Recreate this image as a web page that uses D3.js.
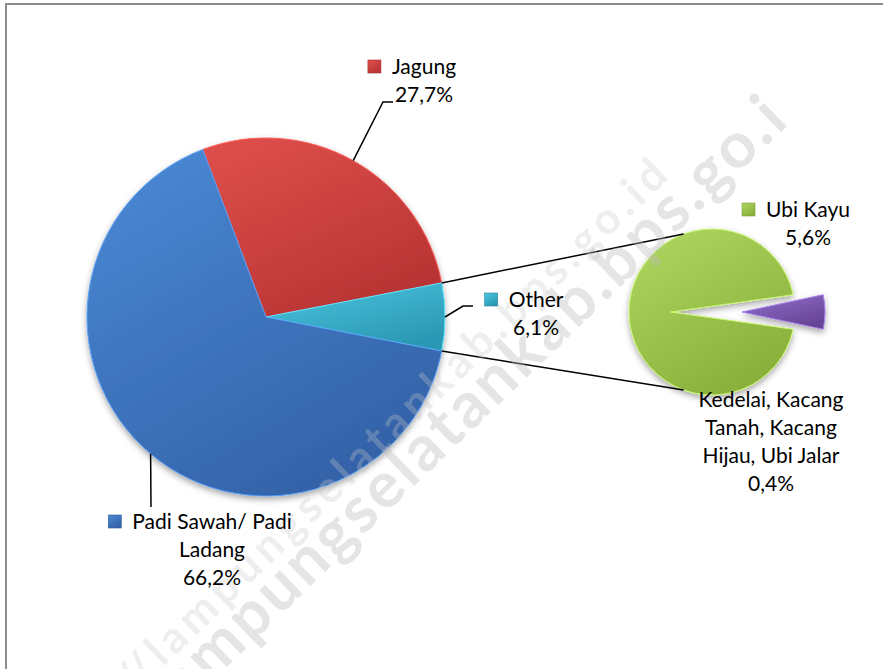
<!DOCTYPE html>
<html>
<head>
<meta charset="utf-8">
<script src="https://cdn.jsdelivr.net/npm/d3@7"></script>
<style>
  html, body { margin: 0; padding: 0; background: #fff; }
  svg { display: block; }
  text { font-family: Lato, "Open Sans", sans-serif; }
</style>
</head>
<body>
<div id="chart"></div>
<script>
// main pie, clockwise order
const mainCategories = ['Jagung', 'Other', 'Padi Sawah/ Padi Ladang'];
const mainValues = [27.7, 6.1, 66.2];
const mainLabels = ['27,7%', '6,1%', '66,2%'];

// second pie: what "Other" is made of, clockwise order
const subCategories = ['Kedelai, Kacang Tanah, Kacang Hijau, Ubi Jalar', 'Ubi Kayu'];
const subValues = [0.4, 5.6];
const subLabels = ['0,4%', '5,6%'];

const width = 883, height = 669;
const main = { cx: 266, cy: 317, r: 179 };
const sub = { cx: 712, cy: 312, r: 83 };

const colors = {
  'Jagung': ['#e0504c', '#b93434'],
  'Other': ['#4cc6e0', '#2b98b4'],
  'Padi Sawah/ Padi Ladang': ['#4b8ad6', '#3463a9'],
  'Ubi Kayu': ['#b0d862', '#8ab03c'],
  'Kedelai, Kacang Tanah, Kacang Hijau, Ubi Jalar': ['#9270cc', '#684596']
};

const svg = d3.select('#chart')
  .append('svg')
  .attr('width', width)
  .attr('height', height);

const defs = svg.append('defs');
Object.entries(colors).forEach(([name, c], i) => {
  const g = defs.append('linearGradient')
    .attr('id', 'grad' + i)
    .attr('x1', 0).attr('y1', 0).attr('x2', 0.6).attr('y2', 1);
  g.append('stop').attr('offset', '0%').attr('stop-color', c[0]);
  g.append('stop').attr('offset', '100%').attr('stop-color', c[1]);
  colors[name].id = 'grad' + i;
});
const shadow = defs.append('filter').attr('id', 'shadow')
  .attr('x', '-20%').attr('y', '-20%').attr('width', '140%').attr('height', '140%');
shadow.append('feDropShadow')
  .attr('dx', 0).attr('dy', 3).attr('stdDeviation', 3)
  .attr('flood-color', '#000').attr('flood-opacity', 0.35);

// frame
svg.append('rect')
  .attr('x', 6).attr('y', 4)
  .attr('width', 900).attr('height', 700)
  .attr('fill', 'none')
  .attr('stroke', '#8c8c8c')
  .attr('stroke-width', 2);

const deg = Math.PI / 180;
function polar(a, r) { return [r * Math.sin(a), -r * Math.cos(a)]; }

// main pie: "Other" centred on the right side
const mainTotal = d3.sum(mainValues);
const mainStart = Math.PI / 2 - 2 * Math.PI * (mainValues[0] + mainValues[1] / 2) / mainTotal;
const mainPie = d3.pie().sort(null)
  .startAngle(mainStart).endAngle(mainStart + 2 * Math.PI);
const mainArcs = mainPie(mainValues);
const mainArc = d3.arc().innerRadius(0).outerRadius(main.r);

const gMain = svg.append('g')
  .attr('transform', `translate(${main.cx},${main.cy})`)
  .attr('filter', 'url(#shadow)');
gMain.selectAll('path')
  .data(mainArcs)
  .enter().append('path')
  .attr('d', mainArc)
  .attr('fill', (d, i) => `url(#${colors[mainCategories[i]].id})`)
  .attr('stroke', (d, i) => d3.color(colors[mainCategories[i]][0]).brighter(0.4))
  .attr('stroke-width', 1);

// second pie: small slice pulled out to the right
const subTotal = d3.sum(subValues);
const subStart = Math.PI / 2 - 2 * Math.PI * (subValues[0] / 2) / subTotal;
const subPie = d3.pie().sort(null)
  .startAngle(subStart).endAngle(subStart + 2 * Math.PI);
const subArcs = subPie(subValues);
const subArc = d3.arc().innerRadius(0).outerRadius(sub.r);
const explode = 30;

function bigSlicePath(d) {
  // the big slice's point sits deep inside, as in the source picture
  const small = subArcs[0];
  const om = (small.startAngle + small.endAngle) / 2;
  const [ax, ay] = polar(om, -sub.r * 0.5);
  const a0 = d.startAngle - Math.PI / 2, a1 = d.endAngle - Math.PI / 2;
  const p = d3.path();
  p.moveTo(ax, ay);
  p.lineTo(sub.r * Math.cos(a0), sub.r * Math.sin(a0));
  p.arc(0, 0, sub.r, a0, a1);
  p.closePath();
  return p.toString();
}

const gSub = svg.append('g')
  .attr('transform', `translate(${sub.cx},${sub.cy})`)
  .attr('filter', 'url(#shadow)');
gSub.selectAll('path')
  .data(subArcs)
  .enter().append('path')
  .attr('d', (d, i) => i === 0 ? subArc(d) : bigSlicePath(d))
  .attr('transform', (d, i) => {
    if (i !== 0) return null;
    const [ox, oy] = polar((d.startAngle + d.endAngle) / 2, explode);
    return `translate(${ox},${oy})`;
  })
  .attr('fill', (d, i) => `url(#${colors[subCategories[i]].id})`)
  .attr('stroke', (d, i) => d3.color(colors[subCategories[i]][0]).brighter(0.4))
  .attr('stroke-width', 1);

// connector lines between the pies
const other = mainArcs[1];
const linkTop = polar(other.startAngle, main.r);
const linkBot = polar(other.endAngle, main.r);
const subTop = polar(-20 * deg, sub.r);
const subBot = polar(200 * deg, sub.r);
[[linkTop, subTop], [linkBot, subBot]].forEach(([a, b]) => {
  svg.append('line')
    .attr('x1', main.cx + a[0]).attr('y1', main.cy + a[1])
    .attr('x2', sub.cx + b[0]).attr('y2', sub.cy + b[1])
    .attr('stroke', '#000').attr('stroke-width', 1.5);
});

// watermark
const wm = svg.append('g')
  .style('font-family', '"Liberation Sans", Arial, sans-serif')
  .style('font-weight', 'bold');
wm.append('text')
  .attr('transform', 'translate(670,178) rotate(-44)')
  .attr('text-anchor', 'end')
  .attr('font-size', 44)
  .attr('textLength', 860)
  .attr('lengthAdjust', 'spacing')
  .attr('fill', '#c8c8c8').attr('opacity', 0.3)
  .text('http://lampungselatankab.bps.go.id');
wm.append('text')
  .attr('transform', 'translate(171,721) rotate(-44)')
  .attr('font-size', 64)
  .attr('textLength', 860)
  .attr('lengthAdjust', 'spacing')
  .attr('fill', '#bcbcbc').attr('opacity', 0.38)
  .text('lampungselatankab.bps.go.i');

// data labels
const fontSize = 21, lineH = 28;
const labelLayout = {
  'Jagung': { x: 424, y: 74, lines: ['Jagung'], key: true, leader: [[383, 102], [393, 102]] },
  'Other': { x: 536, y: 307, lines: ['Other'], key: true, leader: [[463, 306], [473, 306]] },
  'Padi Sawah/ Padi Ladang': { x: 212, y: 529, lines: ['Padi Sawah/ Padi', 'Ladang'], key: true, leader: [[151, 507]] },
  'Ubi Kayu': { x: 808, y: 217, lines: ['Ubi Kayu'], key: true },
  'Kedelai, Kacang Tanah, Kacang Hijau, Ubi Jalar': { x: 771, y: 407, lines: ['Kedelai, Kacang', 'Tanah, Kacang', 'Hijau, Ubi Jalar'], key: false }
};

function drawLabel(name, pct, arc, centre) {
  const L = labelLayout[name];
  if (L.leader) {
    const mid = (arc.startAngle + arc.endAngle) / 2;
    const p0 = polar(mid, centre.r);
    const pts = [[centre.cx + p0[0], centre.cy + p0[1]]].concat(L.leader);
    svg.append('path')
      .attr('d', d3.line()(pts))
      .attr('fill', 'none')
      .attr('stroke', '#000')
      .attr('stroke-width', 1.5);
  }
  const g = svg.append('g');
  const lines = L.lines.concat([pct]);
  const t = g.selectAll('text')
    .data(lines)
    .enter().append('text')
    .attr('x', L.x)
    .attr('y', (d, i) => L.y + i * lineH)
    .attr('text-anchor', 'middle')
    .attr('font-size', fontSize)
    .attr('fill', '#000')
    .text(d => d);
  if (L.key) {
    const w = t.node().getComputedTextLength();
    g.append('rect')
      .attr('x', L.x - w / 2 - 11 - 13)
      .attr('y', L.y - 14)
      .attr('width', 13).attr('height', 13)
      .attr('fill', `url(#${colors[name].id})`)
      .attr('stroke', d3.color(colors[name][1]).darker(0.3))
      .attr('stroke-width', 0.6);
  }
}

mainArcs.forEach((a, i) => drawLabel(mainCategories[i], mainLabels[i], a, main));
subArcs.forEach((a, i) => drawLabel(subCategories[i], subLabels[i], a, sub));
</script>
</body>
</html>
